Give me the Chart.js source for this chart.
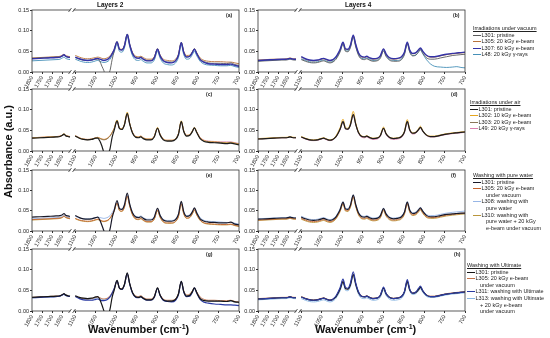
<!DOCTYPE html>
<html>
<head>
<meta charset="utf-8">
<script src="https://cdn.jsdelivr.net/npm/chart.js@4.4.1/dist/chart.umd.min.js"></script>
<style>
  body { margin: 0; background: #fff; font-family: Arial, "Liberation Sans", sans-serif; }
  #wrap { position: relative; width: 550px; height: 338px; overflow: hidden; }
  .txt { position: absolute; white-space: nowrap; color: #111; }
  .leg { position: absolute; font-size: 5.5px; line-height: 6.6px; color: #222; white-space: nowrap; }
  .leg .ttl { text-decoration: underline; }
  .leg .row { position: relative; padding-left: 8.5px; }
  .leg .row i { position: absolute; left: 0; top: 3px; width: 7.5px; border-top: 1px solid; }
  .leg .cont { padding-left: 13px; }
</style>
</head>
<body>
<div id="wrap"></div>
<script>
// wavenumber grid (cm-1): left segment then right segment of the broken axis
const wnLeft = [1800, 1760, 1720, 1680, 1660, 1648, 1640, 1632, 1620, 1610];
const wnRight = [1100, 1090, 1080, 1070, 1060, 1050, 1045, 1040, 1035, 1030, 1025, 1020, 1015,
  1010, 1005, 998, 992, 986, 980, 973, 967, 960, 952, 945, 940, 934,
  925, 915, 907, 899, 893, 885, 875, 865, 855, 848, 841, 835, 828,
  820, 814, 809, 803, 795, 785, 775, 760, 745, 730, 720, 710, 700];
const tickLeft = [1800, 1750, 1700, 1650];
const tickRight = [1100, 1050, 1000, 950, 900, 850, 800, 750, 700];
const yTicks = [0, 0.05, 0.10, 0.15];

// (a) Layers 2, irradiations under vacuum
const a_L301 = [.033,.034,.035,.036,.036,.039,.041,.038,.036,.035,
  .035,.031,.029,.028,.029,.031,.031,.026,.014,.003,-.015,-.008,.004,
  .030,.050,.074,.055,.054,.064,.092,.066,.045,.035,.034,.036,.032,
  .028,.028,.035,.056,.040,.028,.024,.024,.028,.041,.072,.048,.037,
  .039,.048,.056,.045,.031,.025,.022,.021,.021,.020,.022,.018,.016];
const a_L305 = [.034,.035,.036,.037,.038,.041,.043,.040,.038,.037,
  .040,.036,.033,.032,.033,.035,.036,.035,.033,.032,.033,.035,.039,
  .046,.055,.072,.056,.055,.064,.089,.067,.047,.038,.037,.038,.035,
  .031,.031,.037,.056,.042,.031,.028,.027,.031,.043,.071,.050,.040,
  .041,.049,.056,.046,.034,.028,.026,.025,.025,.024,.024,.022,.020];
const a_L307 = [.032,.033,.034,.035,.036,.039,.042,.038,.036,.035,
  .036,.032,.029,.028,.029,.032,.033,.031,.029,.028,.029,.031,.036,
  .044,.054,.073,.055,.053,.063,.091,.066,.044,.034,.033,.035,.031,
  .027,.027,.034,.055,.039,.027,.023,.022,.027,.040,.071,.047,.036,
  .038,.047,.055,.044,.030,.023,.020,.019,.018,.018,.019,.016,.014];
const a_L48 = [.027,.028,.029,.030,.031,.034,.036,.033,.031,.030,
  .031,.027,.024,.023,.024,.027,.028,.026,.024,.023,.024,.026,.031,
  .039,.049,.067,.050,.048,.058,.085,.061,.039,.029,.028,.030,.026,
  .022,.022,.029,.050,.034,.022,.018,.017,.022,.035,.066,.042,.031,
  .033,.042,.050,.039,.026,.019,.017,.016,.015,.015,.016,.013,.011];

// (b) Layers 4, irradiations under vacuum
const b_L301 = [.026,.027,.028,.029,.029,.030,.031,.030,.029,.029,
  .030,.026,.023,.022,.023,.026,.027,.025,.023,.022,.023,.026,.031,
  .039,.049,.067,.050,.049,.059,.084,.061,.040,.031,.030,.032,.029,
  .026,.027,.033,.051,.038,.029,.026,.026,.030,.042,.068,.048,.039,
  .041,.048,.054,.045,.035,.031,.031,.034,.037,.040,.041,.042,.043];
const b_L305 = [.029,.030,.031,.031,.032,.033,.034,.033,.032,.032,
  .036,.031,.028,.027,.028,.031,.032,.030,.028,.027,.028,.031,.036,
  .044,.054,.071,.055,.054,.064,.088,.066,.045,.036,.035,.037,.034,
  .031,.032,.038,.055,.043,.034,.031,.032,.036,.047,.071,.052,.044,
  .046,.052,.057,.049,.040,.036,.036,.039,.042,.044,.045,.046,.047];
const b_L307 = [.028,.029,.030,.031,.031,.032,.033,.032,.031,.031,
  .037,.032,.029,.028,.029,.032,.033,.031,.029,.028,.029,.032,.037,
  .045,.055,.072,.056,.055,.065,.089,.067,.046,.037,.036,.038,.035,
  .032,.033,.039,.056,.044,.035,.032,.033,.037,.048,.072,.053,.045,
  .047,.053,.058,.050,.041,.037,.037,.040,.043,.045,.046,.047,.048];
const b_L48 = [.027,.028,.029,.030,.030,.031,.032,.031,.030,.030,
  .032,.028,.025,.024,.025,.028,.029,.027,.025,.024,.025,.028,.033,
  .041,.051,.069,.052,.051,.061,.086,.063,.042,.033,.032,.034,.031,
  .028,.029,.035,.052,.040,.031,.028,.028,.032,.044,.069,.049,.040,
  .041,.048,.054,.044,.031,.020,.014,.012,.011,.012,.013,.011,.010];

// (c) Layers 2, irradiations under air
const c_L301 = [.031,.032,.033,.034,.035,.038,.041,.037,.035,.034,
  .036,.031,.028,.027,.028,.031,.031,.024,.012,-.004,-.015,-.008,.006,
  .033,.050,.073,.054,.052,.063,.091,.065,.043,.033,.032,.034,.030,
  .027,.027,.034,.055,.039,.027,.024,.024,.028,.040,.071,.047,.036,
  .038,.047,.056,.044,.030,.023,.021,.020,.019,.018,.019,.017,.015];
const c_L302 = [.032,.033,.034,.035,.036,.039,.042,.038,.036,.035,
  .037,.032,.029,.028,.029,.032,.033,.031,.029,.028,.029,.032,.037,
  .045,.055,.075,.056,.054,.065,.094,.067,.045,.035,.034,.036,.032,
  .029,.029,.036,.057,.041,.029,.026,.026,.030,.042,.073,.049,.038,
  .040,.049,.057,.046,.032,.025,.023,.022,.021,.020,.021,.019,.017];
const c_L303 = [.031,.032,.033,.034,.035,.038,.040,.037,.035,.034,
  .036,.031,.028,.027,.028,.031,.032,.030,.028,.027,.028,.031,.036,
  .044,.054,.072,.055,.053,.063,.090,.066,.044,.034,.033,.035,.031,
  .028,.028,.035,.055,.040,.028,.025,.025,.029,.041,.071,.048,.037,
  .039,.047,.055,.045,.031,.024,.022,.021,.020,.019,.020,.018,.016];
const c_L49 = [.032,.033,.034,.035,.036,.038,.041,.037,.036,.035,
  .037,.032,.029,.028,.029,.032,.033,.031,.029,.028,.029,.032,.037,
  .045,.054,.071,.055,.054,.063,.089,.066,.045,.035,.034,.036,.032,
  .029,.029,.036,.055,.041,.029,.026,.026,.030,.042,.070,.049,.038,
  .040,.048,.055,.046,.033,.026,.024,.023,.022,.022,.022,.020,.018];

// (d) Layers 4, irradiations under air
const d_L301 = [.029,.030,.031,.032,.032,.033,.034,.033,.032,.032,
  .034,.030,.027,.026,.027,.030,.031,.029,.027,.026,.027,.030,.035,
  .043,.053,.071,.054,.053,.063,.088,.065,.044,.035,.034,.036,.033,
  .030,.031,.037,.055,.042,.033,.030,.031,.035,.046,.071,.051,.043,
  .045,.051,.057,.048,.039,.035,.035,.038,.041,.043,.044,.045,.046];
const d_L302 = [.030,.031,.032,.033,.033,.034,.035,.034,.033,.033,
  .035,.031,.028,.027,.028,.031,.032,.030,.028,.027,.028,.031,.037,
  .046,.057,.077,.057,.055,.067,.096,.068,.046,.036,.035,.037,.034,
  .031,.032,.038,.058,.043,.034,.031,.032,.036,.048,.076,.053,.044,
  .046,.053,.060,.049,.040,.036,.036,.039,.042,.044,.045,.046,.047];
const d_L303 = [.029,.030,.031,.032,.032,.033,.034,.033,.032,.032,
  .034,.030,.027,.026,.027,.030,.031,.029,.027,.026,.027,.030,.035,
  .043,.053,.072,.054,.053,.063,.089,.065,.044,.035,.034,.036,.033,
  .030,.031,.037,.055,.042,.033,.030,.031,.035,.046,.072,.051,.043,
  .045,.051,.057,.048,.039,.035,.035,.038,.041,.043,.044,.045,.046];
const d_L49 = [.029,.030,.031,.032,.032,.033,.034,.033,.032,.032,
  .033,.029,.026,.025,.026,.029,.030,.028,.026,.025,.026,.029,.034,
  .042,.052,.070,.053,.052,.062,.087,.064,.043,.033,.032,.034,.031,
  .028,.029,.035,.054,.040,.031,.028,.029,.033,.044,.070,.049,.041,
  .043,.050,.056,.047,.038,.034,.034,.037,.040,.042,.043,.044,.045];

// (e) Layers 2, washing with pure water
const e_L301 = [.034,.035,.036,.037,.038,.040,.043,.039,.037,.036,
  .038,.033,.030,.029,.030,.033,.034,.027,.014,.000,-.015,-.010,.005,
  .032,.050,.075,.055,.053,.064,.093,.066,.044,.034,.033,.035,.031,
  .027,.027,.034,.056,.039,.027,.024,.024,.028,.041,.073,.047,.036,
  .038,.047,.057,.044,.030,.024,.022,.021,.020,.020,.022,.017,.015];
const e_L305 = [.028,.029,.030,.031,.032,.034,.037,.034,.032,.031,
  .031,.027,.025,.024,.025,.028,.029,.027,.025,.024,.025,.027,.032,
  .040,.050,.069,.051,.049,.059,.086,.062,.040,.030,.029,.031,.027,
  .023,.023,.030,.051,.035,.023,.020,.020,.024,.036,.067,.043,.032,
  .034,.043,.052,.040,.027,.020,.018,.017,.016,.016,.017,.014,.012];
const e_L308 = [.030,.031,.032,.033,.034,.036,.039,.036,.034,.033,
  .036,.032,.030,.030,.031,.033,.034,.033,.032,.031,.032,.034,.038,
  .045,.054,.071,.055,.054,.063,.089,.066,.045,.036,.035,.037,.033,
  .029,.029,.035,.054,.040,.029,.026,.026,.030,.042,.070,.048,.038,
  .040,.048,.055,.045,.033,.026,.024,.023,.022,.021,.021,.019,.017];
const e_L310 = [.027,.028,.029,.030,.031,.033,.036,.033,.031,.030,
  .030,.026,.024,.023,.024,.027,.028,.026,.024,.023,.024,.026,.031,
  .039,.049,.068,.050,.048,.058,.085,.061,.039,.029,.028,.030,.026,
  .022,.022,.029,.050,.034,.022,.019,.019,.023,.035,.066,.042,.031,
  .033,.042,.051,.039,.026,.019,.017,.016,.015,.015,.016,.013,.011];

// (f) Layers 4, washing with pure water
const f_L301 = [.029,.030,.031,.032,.032,.033,.034,.033,.032,.032,
  .034,.030,.027,.026,.027,.030,.031,.029,.027,.026,.027,.030,.035,
  .043,.053,.071,.054,.053,.063,.088,.065,.044,.035,.034,.036,.033,
  .030,.031,.037,.055,.042,.033,.030,.031,.035,.046,.071,.051,.043,
  .045,.051,.057,.048,.039,.035,.035,.038,.041,.042,.043,.044,.044];
const f_L305 = [.027,.028,.029,.030,.030,.031,.032,.031,.030,.030,
  .031,.027,.024,.023,.024,.027,.028,.026,.024,.023,.024,.027,.032,
  .040,.050,.068,.051,.050,.060,.085,.062,.041,.032,.031,.033,.030,
  .027,.028,.034,.052,.039,.030,.027,.028,.032,.043,.068,.048,.040,
  .042,.048,.054,.045,.036,.033,.033,.036,.039,.041,.042,.043,.044];
const f_L308 = [.030,.031,.032,.033,.033,.034,.035,.034,.033,.033,
  .036,.032,.029,.028,.029,.032,.033,.031,.029,.028,.029,.032,.037,
  .045,.055,.072,.056,.055,.065,.089,.067,.046,.037,.036,.038,.035,
  .032,.033,.039,.056,.044,.035,.032,.033,.037,.048,.072,.053,.045,
  .047,.053,.058,.050,.041,.038,.038,.041,.044,.046,.047,.048,.049];
const f_L310 = [.026,.027,.028,.029,.029,.030,.031,.030,.029,.029,
  .029,.025,.022,.021,.022,.025,.026,.024,.022,.021,.022,.025,.030,
  .038,.048,.066,.049,.048,.058,.083,.060,.039,.030,.029,.031,.028,
  .025,.026,.032,.050,.037,.028,.025,.026,.030,.041,.066,.046,.038,
  .040,.046,.052,.043,.034,.031,.031,.034,.037,.039,.040,.041,.042];

// (g) Layers 2, washing with Ultimate
const g_L301 = [.033,.034,.035,.036,.037,.040,.042,.039,.037,.036,
  .037,.033,.031,.030,.031,.034,.035,.028,.015,.000,-.015,-.010,.005,
  .033,.050,.074,.055,.053,.064,.092,.066,.044,.034,.033,.035,.031,
  .027,.027,.034,.056,.039,.027,.024,.024,.028,.041,.072,.047,.036,
  .038,.047,.056,.044,.030,.025,.024,.024,.024,.023,.025,.022,.021];
const g_L305 = [.033,.034,.035,.036,.036,.039,.041,.038,.036,.035,
  .036,.032,.030,.029,.030,.033,.034,.032,.030,.029,.030,.032,.037,
  .044,.054,.071,.055,.054,.063,.088,.066,.045,.036,.035,.037,.033,
  .029,.029,.036,.055,.040,.029,.026,.026,.030,.042,.070,.049,.039,
  .041,.049,.055,.046,.034,.028,.026,.026,.025,.025,.026,.023,.022];
const g_L311 = [.032,.033,.034,.035,.036,.039,.041,.038,.036,.035,
  .035,.030,.027,.026,.026,.028,.029,.027,.025,.025,.026,.029,.034,
  .043,.054,.073,.055,.052,.063,.091,.065,.043,.033,.032,.034,.030,
  .026,.026,.033,.055,.038,.026,.023,.022,.026,.039,.072,.046,.035,
  .036,.045,.056,.043,.028,.021,.019,.017,.016,.015,.015,.014,.013];
const g_L313 = [.032,.033,.034,.035,.036,.038,.040,.037,.036,.035,
  .036,.032,.029,.028,.029,.031,.032,.030,.028,.027,.028,.031,.036,
  .044,.054,.071,.055,.053,.062,.087,.065,.044,.035,.034,.036,.032,
  .028,.028,.035,.053,.039,.028,.025,.025,.029,.041,.069,.048,.037,
  .039,.047,.054,.045,.032,.026,.025,.024,.024,.023,.024,.022,.021];

// (h) Layers 4, washing with Ultimate
const h_L301 = [.029,.030,.031,.032,.032,.033,.034,.033,.032,.032,
  .034,.030,.027,.026,.027,.030,.031,.029,.027,.026,.027,.030,.035,
  .043,.053,.071,.054,.053,.063,.088,.065,.044,.035,.034,.036,.033,
  .030,.031,.037,.055,.042,.033,.030,.031,.035,.046,.071,.051,.043,
  .045,.051,.057,.048,.039,.035,.035,.038,.041,.043,.044,.045,.046];
const h_L305 = [.030,.031,.032,.033,.033,.034,.035,.034,.033,.033,
  .035,.031,.028,.027,.028,.031,.032,.030,.028,.027,.028,.031,.036,
  .044,.054,.072,.055,.054,.064,.089,.066,.045,.036,.035,.037,.034,
  .031,.032,.038,.056,.043,.034,.031,.032,.036,.047,.072,.052,.044,
  .046,.052,.058,.049,.040,.036,.036,.039,.042,.044,.045,.046,.047];
const h_L311 = [.029,.030,.031,.032,.032,.033,.034,.033,.032,.032,
  .034,.030,.027,.026,.027,.030,.031,.029,.027,.026,.027,.031,.037,
  .046,.057,.077,.057,.055,.067,.095,.068,.046,.035,.034,.036,.033,
  .030,.031,.038,.058,.043,.033,.030,.031,.035,.047,.076,.053,.043,
  .046,.054,.060,.049,.039,.035,.035,.038,.041,.043,.044,.045,.046];
const h_L313 = [.027,.028,.029,.030,.030,.031,.032,.031,.030,.030,
  .030,.026,.023,.022,.023,.026,.027,.025,.023,.022,.023,.026,.031,
  .039,.049,.067,.050,.049,.059,.084,.061,.040,.031,.030,.032,.029,
  .026,.027,.033,.051,.038,.029,.026,.027,.031,.042,.068,.048,.040,
  .042,.048,.054,.045,.036,.033,.033,.036,.039,.041,.042,.043,.044];

// series colours per group
const colVacuum = ['#5a5a5a', '#b8733c', '#3333a8', '#4590b8'];
const colAir = ['#1c1c1c', '#e6a61e', '#8a7658', '#d97fae'];
const colWater = ['#181828', '#c4622c', '#97b6e6', '#b9963c'];
const colUltimate = ['#151515', '#c27248', '#2a3aa2', '#88b6e2'];

// legend texts
const legVacuum = [['L301: pristine'], ['L305: 20 kGy e-beam'], ['L307: 60 kGy e-beam'], ['L48: 20 kGy \u03b3-rays']];
const legAir = [['L301: pristine'], ['L302: 10 kGy e-beam'], ['L303: 20 kGy e-beam'], ['L49: 20 kGy \u03b3-rays']];
const legWater = [['L301: pristine'], ['L305: 20 kGy e-beam', 'under vacuum'], ['L308: washing with', 'pure water'], ['L310: washing with', 'pure water + 20 kGy', 'e-beam under vacuum']];
const legUltimate = [['L301: pristine'], ['L305: 20 kGy e-beam', 'under vacuum'], ['L311: washing with Ultimate'], ['L313: washing with Ultimate', '+ 20 kGy e-beam', 'under vacuum']];

const panels = [
  { tag: '(a)', col: 0, row: 0, series: [a_L301, a_L305, a_L307, a_L48], colors: colVacuum, widths: [0.9, 0.9, 1.4, 0.9], z: [1, 2, 0, 3], tagX: 230 },
  { tag: '(b)', col: 1, row: 0, series: [b_L301, b_L305, b_L307, b_L48], colors: colVacuum, widths: [0.9, 0.9, 1.4, 0.9], z: [1, 2, 0, 3], tagX: 457 },
  { tag: '(c)', col: 0, row: 1, series: [c_L301, c_L302, c_L303, c_L49], colors: colAir, widths: [1.2, 0.9, 0.9, 0.9], z: [0, 2, 1, 3], tagX: 210 },
  { tag: '(d)', col: 1, row: 1, series: [d_L301, d_L302, d_L303, d_L49], colors: colAir, widths: [1.2, 0.9, 0.9, 0.9], z: [0, 2, 1, 3], tagX: 455 },
  { tag: '(e)', col: 0, row: 2, series: [e_L301, e_L305, e_L308, e_L310], colors: colWater, widths: [1.2, 0.9, 0.9, 0.9], z: [0, 1, 2, 3], tagX: 210 },
  { tag: '(f)', col: 1, row: 2, series: [f_L301, f_L305, f_L308, f_L310], colors: colWater, widths: [1.2, 0.9, 0.9, 0.9], z: [0, 1, 2, 3], tagX: 455 },
  { tag: '(g)', col: 0, row: 3, series: [g_L301, g_L305, g_L311, g_L313], colors: colUltimate, widths: [1.2, 0.9, 1.2, 0.9], z: [0, 2, 1, 3], tagX: 210 },
  { tag: '(h)', col: 1, row: 3, series: [h_L301, h_L305, h_L311, h_L313], colors: colUltimate, widths: [1.2, 0.9, 1.2, 0.9], z: [1, 2, 0, 3], tagX: 458 }
];

const legends = [
  { title: 'Irradiations under vacuum', items: legVacuum, colors: colVacuum, x: 473, y: 25 },
  { title: 'Irradiations under air', items: legAir, colors: colAir, x: 470, y: 99 },
  { title: 'Washing with pure water', items: legWater, colors: colWater, x: 473, y: 172 },
  { title: 'Washing with Ultimate', items: legUltimate, colors: colUltimate, x: 467, y: 262 }
];

const wrap = document.getElementById('wrap');
const colX = [8, 234];
const rowTop = [10, 89, 170, 249];
const rowBottom = [72, 151, 231, 311];
const FONT = 'Arial, "Liberation Sans", sans-serif';
const tickFont = { family: FONT, size: 5.5 };

function addText(html, x, y, css) {
  const d = document.createElement('div');
  d.className = 'txt';
  d.innerHTML = html;
  d.style.cssText += css;
  d.style.left = x + 'px';
  d.style.top = y + 'px';
  wrap.appendChild(d);
  return d;
}

// box round the plot and the // marks of the axis break
const framePlugin = {
  id: 'frame',
  afterDraw(chart) {
    const { ctx, chartArea: a } = chart;
    const bx = chart.scales.xL.right;
    ctx.save();
    ctx.strokeStyle = '#333';
    ctx.lineWidth = 0.8;
    ctx.strokeRect(a.left, a.top, a.right - a.left, a.bottom - a.top);
    [a.top, a.bottom].forEach(y => {
      ctx.fillStyle = '#fff';
      ctx.fillRect(bx - 1.5, y - 1.5, 3, 3);
      ctx.beginPath();
      ctx.moveTo(bx - 3.5, y + 2); ctx.lineTo(bx - 0.5, y - 2);
      ctx.moveTo(bx + 0.5, y + 2); ctx.lineTo(bx + 3.5, y - 2);
      ctx.stroke();
    });
    ctx.restore();
  }
};

function xAxis(min, max, weight, ticks) {
  return {
    type: 'linear', position: 'bottom', stack: 'x', stackWeight: weight,
    min: min, max: max, reverse: true,
    grid: { drawOnChartArea: false, drawTicks: true, tickLength: 2, color: '#333' },
    border: { display: false },
    ticks: { font: tickFont, color: '#222', minRotation: 60, maxRotation: 60, padding: 1, autoSkip: false,
      callback: v => String(v) },
    afterBuildTicks: s => { s.ticks = ticks.map(v => ({ value: v })); },
    afterFit: s => { s.height = 18; s.paddingLeft = 0; s.paddingRight = 0; }
  };
}

function makePanel(p) {
  const left = colX[p.col];
  const top = rowTop[p.row] - 4;
  const w = 236;
  const h = rowBottom[p.row] - rowTop[p.row] + 4 + 18;
  const canvas = document.createElement('canvas');
  canvas.width = w;
  canvas.height = h;
  canvas.style.position = 'absolute';
  canvas.style.left = left + 'px';
  canvas.style.top = top + 'px';
  wrap.appendChild(canvas);

  const datasets = [];
  p.series.forEach((s, i) => {
    const base = { borderColor: p.colors[i], borderWidth: p.widths[i], pointRadius: 0,
      cubicInterpolationMode: 'monotone', fill: false, order: p.z[i] };
    datasets.push(Object.assign({}, base, { xAxisID: 'xL', yAxisID: 'y',
      data: wnLeft.map((x, k) => ({ x: x, y: s[k] })) }));
    datasets.push(Object.assign({}, base, { xAxisID: 'xR', yAxisID: 'y',
      data: wnRight.map((x, k) => ({ x: x, y: s[k + wnLeft.length] })) }));
  });

  new Chart(canvas, {
    type: 'line',
    data: { datasets: datasets },
    options: {
      responsive: false,
      animation: false,
      devicePixelRatio: 1,
      layout: { padding: { left: 0, right: 5, top: 4, bottom: 0 } },
      plugins: { legend: { display: false }, tooltip: { enabled: false } },
      scales: {
        xL: xAxis(1600, 1800, 40, tickLeft),
        xR: xAxis(700, 1108, 167, tickRight),
        y: {
          position: 'left', min: 0, max: 0.15,
          grid: { drawOnChartArea: false, drawTicks: true, tickLength: 2, color: '#333' },
          border: { display: false },
          ticks: { font: tickFont, color: '#222', padding: 1, callback: v => v.toFixed(2) },
          afterBuildTicks: s => { s.ticks = yTicks.map(v => ({ value: v })); },
          afterFit: s => { s.width = 24; s.paddingTop = 0; s.paddingBottom = 0; }
        }
      }
    },
    plugins: [framePlugin]
  });

  addText(p.tag, p.tagX - 4, rowTop[p.row] + 2, 'font-size:5px;font-weight:bold;color:#222;');
}

panels.forEach(makePanel);

// legends
legends.forEach(l => {
  const d = document.createElement('div');
  d.className = 'leg';
  d.style.left = l.x + 'px';
  d.style.top = l.y + 'px';
  let html = '<div class="ttl">' + l.title + '</div>';
  l.items.forEach((lines, i) => {
    html += '<div class="row"><i style="border-color:' + l.colors[i] + '"></i>' + lines[0] + '</div>';
    lines.slice(1).forEach(t => { html += '<div class="cont">' + t + '</div>'; });
  });
  d.innerHTML = html;
  wrap.appendChild(d);
});

// titles and axis names
addText('Layers 2', 97, 1, 'font-size:6.5px;font-weight:bold;');
addText('Layers 4', 345, 1, 'font-size:6.5px;font-weight:bold;');
['88px', '315px'].forEach(x => {
  addText('Wavenumber (cm<span style="font-size:7px;position:relative;top:-4px">-1</span>)', parseInt(x), 323,
    'font-size:11px;font-weight:bold;');
});
const yt = addText('Absorbance (a.u.)', 0, 0, 'font-size:11px;font-weight:bold;');
yt.style.left = '-38px';
yt.style.top = '146px';
yt.style.transform = 'rotate(-90deg)';
yt.style.width = '92px';
yt.style.textAlign = 'center';
</script>
</body>
</html>
